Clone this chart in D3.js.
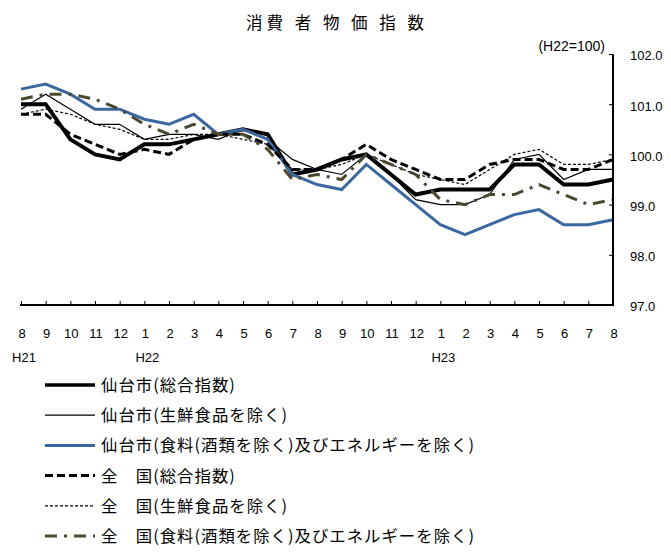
<!DOCTYPE html>
<html><head><meta charset="utf-8">
<script src="https://cdn.jsdelivr.net/npm/d3@7"></script>
<style>
html,body{margin:0;padding:0;background:#fff;}
svg{display:block;}
</style>
</head><body>
<svg id="chart" width="671" height="552"></svg>
<script>
const months = ["8","9","10","11","12","1","2","3","4","5","6","7","8","9","10","11","12","1","2","3","4","5","6","7","8"];
const yearLabels = [{i:0,t:"H21"},{i:5,t:"H22"},{i:17,t:"H23"}];
const yTicks = [97,98,99,100,101,102];

const sendaiTotal    = [101.0,101.0,100.3,100.0,99.9,100.2,100.2,100.3,100.4,100.5,100.4,99.6,99.7,99.9,100.0,99.6,99.2,99.3,99.3,99.3,99.8,99.8,99.4,99.4,99.5];
const sendaiExFresh  = [100.9,101.2,100.9,100.6,100.6,100.3,100.4,100.4,100.3,100.5,100.3,99.9,99.7,99.6,100.0,99.6,99.1,99.0,99.0,99.2,99.9,100.0,99.5,99.7,99.7];
const sendaiCore     = [101.3,101.4,101.2,100.9,100.9,100.7,100.6,100.8,100.4,100.5,100.3,99.6,99.4,99.3,99.8,99.4,99.0,98.6,98.4,98.6,98.8,98.9,98.6,98.6,98.7];
const nationalTotal  = [100.8,100.8,100.4,100.2,100.0,100.1,100.0,100.3,100.4,100.4,100.2,99.7,99.7,99.9,100.2,99.9,99.7,99.5,99.5,99.8,99.9,99.9,99.7,99.7,99.9];
const nationalExFresh= [100.8,100.9,100.8,100.6,100.5,100.3,100.3,100.4,100.4,100.3,100.2,99.7,99.7,99.8,100.0,99.8,99.6,99.5,99.4,99.7,100.0,100.1,99.8,99.8,99.9];
const nationalCore   = [101.1,101.2,101.2,101.1,100.9,100.6,100.4,100.6,100.4,100.4,100.1,99.5,99.6,99.5,100.0,99.8,99.6,99.1,99.0,99.2,99.2,99.4,99.2,99.0,99.1];

const seriesNames = ["仙台市(総合指数)","仙台市(生鮮食品を除く)","仙台市(食料(酒類を除く)及びエネルギーを除く)","全　国(総合指数)","全　国(生鮮食品を除く)","全　国(食料(酒類を除く)及びエネルギーを除く)"];
const seriesValues = [sendaiTotal, sendaiExFresh, sendaiCore, nationalTotal, nationalExFresh, nationalCore];
const seriesStyles = [
  {color:"#000", width:4, dash:null},
  {color:"#000", width:1.2, dash:null},
  {color:"#3b67a0", width:3, dash:null},
  {color:"#000", width:3, dash:"8,4"},
  {color:"#000", width:1.2, dash:"3,2"},
  {color:"#4b4830", width:3, dash:"12,7,3,7"}
];

const latin = "'Liberation Sans', Arial, sans-serif";
const cjk = "'Noto Sans CJK JP', 'Noto Sans', sans-serif";

const svg = d3.select("#chart");
const x = d3.scalePoint().domain(d3.range(months.length)).range([21, 613]);
const y = d3.scaleLinear().domain([97, 102]).range([305, 54]);

// title
svg.append("text").attr("x", 337).attr("y", 29).attr("text-anchor","middle")
  .attr("font-family", cjk).attr("font-size", 16.5).attr("letter-spacing", "4px")
  .attr("fill","#000").text("消費 者 物 価 指 数");

svg.append("text").attr("x", 605).attr("y", 51).attr("text-anchor","end")
  .attr("font-family", latin).attr("font-size", 14).attr("fill","#000").text("(H22=100)");

// lines
const line = d3.line().x((d,i)=>x(i)).y(d=>y(d));
seriesValues.forEach((vals, k) => {
  const s = seriesStyles[k];
  svg.append("path").datum(vals).attr("d", line).attr("fill","none")
    .attr("stroke", s.color).attr("stroke-width", s.width)
    .attr("stroke-dasharray", s.dash).attr("stroke-linejoin","miter");
});

// right y axis
const yAxis = d3.axisRight(y).tickValues(yTicks).tickSize(0).tickFormat(d3.format(".1f"));
const ya = svg.append("g").attr("transform","translate(613,0)").call(yAxis);
ya.select(".domain").remove();
ya.selectAll("text").attr("x", 17).attr("dy","0.45em").attr("font-family", latin).attr("font-size", 13).attr("fill","#000");
// inward ticks
const yIn = d3.axisLeft(y).tickValues(yTicks).tickSize(4).tickFormat("");
const yi = svg.append("g").attr("transform","translate(613,0)").call(yIn);
yi.select(".domain").attr("stroke-width",2).attr("d", `M0,${y(102)}V${y(97)}`);
yi.selectAll("line").attr("stroke","#000");

// x axis
const xAxis = d3.axisTop(x).tickSize(4).tickFormat("");
const xa = svg.append("g").attr("transform","translate(0,305)").call(xAxis);
xa.select(".domain").attr("stroke-width",2).attr("d", `M${x(0)-1},0H${x(24)+1}`);
const xl = svg.append("g");
xl.selectAll("text.m").data(months).join("text").attr("class","m")
  .attr("x",(d,i)=>x(i)+1).attr("y",338).attr("text-anchor","middle")
  .attr("font-family", latin).attr("font-size", 13).attr("fill","#000").text(d=>d);
xl.selectAll("text.yr").data(yearLabels).join("text").attr("class","yr")
  .attr("x",d=>x(d.i)+3).attr("y",362).attr("text-anchor","middle")
  .attr("font-family", latin).attr("font-size", 13).attr("fill","#000").text(d=>d.t);

// legend
const lg = svg.append("g");
seriesNames.forEach((name, k) => {
  const s = seriesStyles[k];
  const yy = 385 + k*30.2;
  lg.append("line").attr("x1",45).attr("x2",95).attr("y1",yy).attr("y2",yy)
    .attr("stroke", s.color).attr("stroke-width", s.width === 4 ? 3.5 : s.width)
    .attr("stroke-dasharray", s.dash);
  lg.append("text").attr("x",101).attr("y",yy+6).attr("font-family", cjk)
    .attr("font-size", 16.4).attr("letter-spacing","1px").attr("fill","#000").text(name);
});
</script>
</body></html>
